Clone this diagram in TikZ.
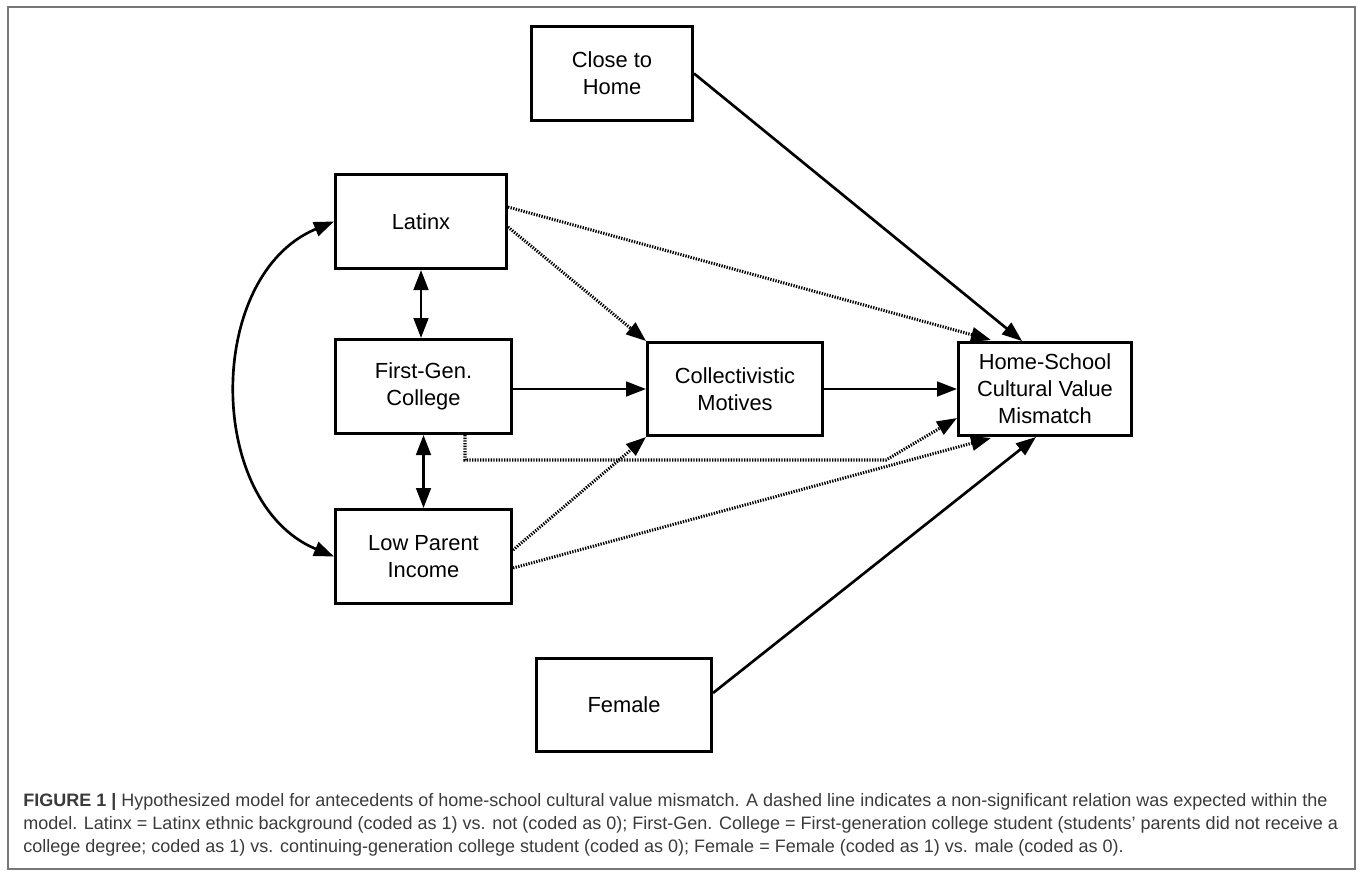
\documentclass[tikz,border=0pt]{standalone}
\usepackage{fontspec}
\setmainfont{Liberation Sans}
\usetikzlibrary{arrows.meta,calc}
\definecolor{framegray}{HTML}{777777}
\definecolor{capgray}{HTML}{3a3a3a}
\tikzset{
  box/.style={draw, line width=2pt, rectangle, inner sep=0pt, align=center,
    font=\fontsize{16.4}{20.3}\selectfont},
  conn/.style={line width=2pt, -{Triangle[length=15pt,width=11pt]}},
  dconn/.style={conn, dash pattern=on 1pt off 1pt, line width=2.3pt},
  biconn/.style={line width=2pt, {Triangle[length=15pt,width=11pt]}-{Triangle[length=15pt,width=11pt]}},
  captext/.style={anchor=base west, inner sep=0pt, text=capgray,
    font=\fontsize{13.5}{18}\selectfont},
}
\begin{document}
\begin{tikzpicture}[x=0.75pt,y=-0.75pt]
\useasboundingbox (0,0) rectangle (1358,872);
\draw[framegray, line width=1.5pt] (7.5,6.5) rectangle (1355,869);

% nodes
\node[box, minimum width=121pt, minimum height=70.75pt] (close) at (612,73.5) {Close to\\Home};
\node[box, minimum width=128.5pt, minimum height=70.75pt] (lat) at (421,221.5) {Latinx};
\node[box, minimum width=132.25pt, minimum height=70.75pt] (fg) at (423.5,386.5) {First-Gen.\\College};
\node[box, minimum width=132.25pt, minimum height=70.75pt] (lpi) at (423.5,556.5) {Low Parent\\Income};
\node[box, minimum width=131.5pt, minimum height=70pt] (col) at (735,389) {Collectivistic\\Motives};
\node[box, minimum width=130pt, minimum height=70pt] (hs) at (1045,389) {Home-School\\Cultural Value\\Mismatch};
\node[box, minimum width=131.5pt, minimum height=70pt] (fem) at (624,705) {Female};

% helper coordinates
\coordinate (latA) at ($(lat.east)+(0,-14.5)$);
\coordinate (latB) at ($(lat.east)+(0,5.5)$);
\coordinate (lpiA) at ($(lpi.east)+(0,-6.5)$);
\coordinate (lpiB) at ($(lpi.east)+(0,11.5)$);
\coordinate (fgS) at ($(fg.south east)+(-48,0)$);
\coordinate (fgC1) at ($(fgS)+(0,25)$);
\coordinate (hsL) at ($(hs.west)+(0,29)$);
\coordinate (fgC2) at (hsL -| 886,0);
\coordinate (fgC3) at (fgC1 -| fgC2);
\coordinate (hsT1) at ($(hs.north west)+(65,0)$);
\coordinate (hsT2) at ($(hs.north west)+(34,-1)$);
\coordinate (hsB1) at ($(hs.south west)+(34,1)$);
\coordinate (hsB2) at ($(hs.south west)+(79,0)$);
\coordinate (femA) at ($(fem.east)+(0,-12)$);

% solid connectors
\draw[conn] (close.east) -- (hsT1);
\draw[conn] (fg.east |- col.west) -- (col.west);
\draw[conn] (col.east) -- (hs.west);
\draw[conn] (femA) -- (hsB2);

% dotted connectors
\draw[dconn] (latA) -- (hsT2);
\draw[dconn] (latB) -- (col.north west);
\draw[dconn] (lpiA) -- (col.south west);
\draw[dconn] (lpiB) -- (hsB1);
\draw[dconn] (fgS) -- (fgC1) -- (fgC3) -- (hsL);

% correlations
\draw[biconn] (lat.south) -- (lat.south |- fg.north);
\draw[biconn] (fg.south) -- (fg.south |- lpi.north);
\draw[biconn] (lat.west) .. controls (205,275) and (205,503) .. (lpi.west);

% caption
\node[captext] (cap1) at (23,806) {\textbf{FIGURE 1 |} Hypothesized model for antecedents of home-school cultural value mismatch. A dashed line indicates a non-significant relation was expected within the};
\node[captext] (cap2) at (23,829) {model. Latinx = Latinx ethnic background (coded as 1) vs. not (coded as 0); First-Gen. College = First-generation college student (students’ parents did not receive a};
\node[captext] (cap3) at (23,852) {college degree; coded as 1) vs. continuing-generation college student (coded as 0); Female = Female (coded as 1) vs. male (coded as 0).};
\end{tikzpicture}
\end{document}
